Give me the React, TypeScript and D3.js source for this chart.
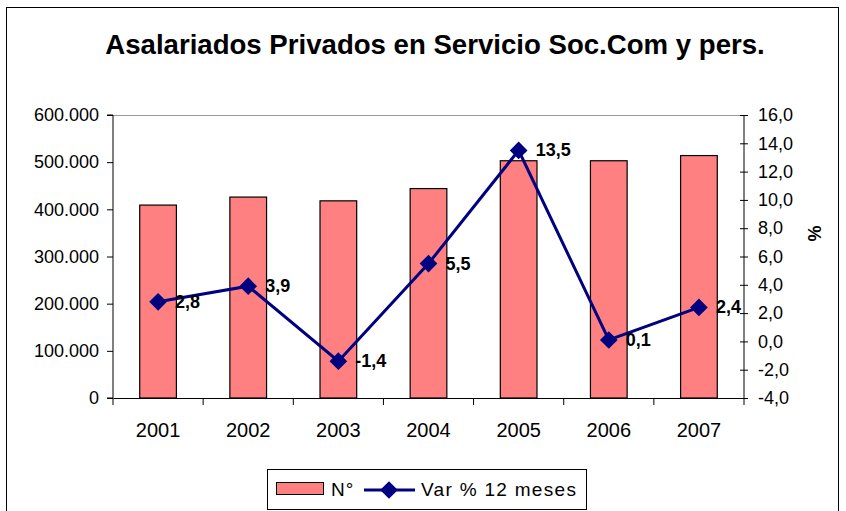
import React, { useEffect, useRef } from 'react'
import * as d3 from 'd3'

const years = ['2001', '2002', '2003', '2004', '2005', '2006', '2007']
const asalariados = [409000, 426000, 418000, 444000, 503000, 503000, 514000]
const variacion = [2.8, 3.9, -1.4, 5.5, 13.5, 0.1, 2.4]
const leftTicks = [0, 100000, 200000, 300000, 400000, 500000, 600000]
const rightTicks = [-4, -2, 0, 2, 4, 6, 8, 10, 12, 14, 16]

const fmtLeft = (v: number) => (v === 0 ? '0' : d3.format(',')(v).replace(/,/g, '.'))
const fmtRight = (v: number) => v.toFixed(1).replace('.', ',')

export default function App() {
  const ref = useRef<SVGSVGElement>(null)

  useEffect(() => {
    const svg = d3.select(ref.current)
    svg.selectAll('*').remove()
    const font = 'Arial, "Liberation Sans", sans-serif'

    const margin = { left: 113, right: 102, top: 115, bottom: 113 }
    const width = 846
    const height = 511
    const innerW = width - margin.left - margin.right
    const innerH = height - margin.top - margin.bottom

    // outer frame
    svg.append('rect').attr('x', 6.5).attr('y', 7.5).attr('width', 832).attr('height', 520)
      .attr('fill', '#fff').attr('stroke', '#000').attr('stroke-width', 1)

    svg.append('text').attr('x', 435).attr('y', 54).attr('text-anchor', 'middle')
      .attr('font-family', font).attr('font-weight', 'bold').attr('font-size', 27.6)
      .text('Asalariados Privados en Servicio Soc.Com y pers.')

    const g = svg.append('g').attr('transform', `translate(${margin.left},${margin.top})`)

    const x = d3.scaleBand().domain(years).range([0, innerW]).paddingInner(0.593).paddingOuter(0.2965)
    const xc = d3.scaleBand().domain(years).range([0, innerW])
    const yL = d3.scaleLinear().domain([0, 600000]).range([innerH, 0])
    const yR = d3.scaleLinear().domain([-4, 16]).range([innerH, 0])

    // plot area top border
    g.append('line').attr('x1', 0).attr('x2', innerW).attr('y1', 0.5).attr('y2', 0.5)
      .attr('stroke', '#999').attr('stroke-width', 1)

    g.selectAll('rect.bar').data(asalariados).enter().append('rect')
      .attr('class', 'bar')
      .attr('x', (d, i) => x(years[i])!)
      .attr('y', d => yL(d))
      .attr('width', x.bandwidth())
      .attr('height', d => innerH - yL(d))
      .attr('fill', '#FF8080').attr('stroke', '#000').attr('stroke-width', 1.2)

    // left axis
    const axL = g.append('g').call(d3.axisLeft(yL).tickValues(leftTicks).tickFormat(d => fmtLeft(+d)).tickSize(6).tickPadding(8))
    // bottom axis
    const axB = g.append('g').attr('transform', `translate(0,${innerH})`)
      .call(d3.axisBottom(xc).tickSize(0).tickPadding(25))
    const tickXs = d3.range(0, years.length + 1).map(i => (innerW / years.length) * i)
    axB.selectAll('line.sep').data(tickXs).enter().append('line').attr('class', 'sep')
      .attr('x1', d => d).attr('x2', d => d).attr('y1', 0).attr('y2', 7).attr('stroke', '#000')
    // right axis
    const axR = g.append('g').attr('transform', `translate(${innerW},0)`)
      .call(d3.axisRight(yR).tickValues(rightTicks).tickFormat(d => fmtRight(+d)).tickSizeInner(4).tickSizeOuter(0).tickPadding(10))
    axR.selectAll('.tick line').attr('x1', -4)

    ;[axL, axR].forEach(a => {
      a.selectAll('text').attr('font-family', font).attr('font-size', 18).attr('fill', '#000')
    })
    axB.selectAll('text').attr('font-family', font).attr('font-size', 20).attr('fill', '#000')
    ;[axL, axB, axR].forEach(a => {
      a.selectAll('path.domain').attr('stroke', '#000')
      a.selectAll('.tick line').attr('stroke', '#000')
    })
    axL.selectAll('path.domain').attr('d', `M-6,${innerH}H0V0H-6`)
    axR.selectAll('path.domain').attr('d', `M0,${innerH}V0`)

    // % label
    g.append('text').attr('transform', `translate(${innerW + 64},${innerH / 2 - 23}) rotate(90)`)
      .attr('text-anchor', 'middle').attr('font-family', font).attr('font-weight', 'bold').attr('font-size', 18)
      .text('%')

    // line
    const cx = (i: number) => xc(years[i])! + xc.bandwidth() / 2
    const line = d3.line<number>().x((d, i) => cx(i)).y(d => yR(d))
    g.append('path').datum(variacion).attr('d', line).attr('fill', 'none')
      .attr('stroke', '#000080').attr('stroke-width', 3)

    const diamond = d3.symbol().type(d3.symbolDiamond2).size(200)
    g.selectAll('path.mk').data(variacion).enter().append('path').attr('class', 'mk')
      .attr('d', diamond)
      .attr('transform', (d, i) => `translate(${cx(i)},${yR(d)})`)
      .attr('fill', '#000080')

    g.selectAll('text.lbl').data(variacion).enter().append('text').attr('class', 'lbl')
      .attr('x', (d, i) => cx(i) + 17)
      .attr('y', d => yR(d) + 6)
      .attr('font-family', font).attr('font-weight', 'bold').attr('font-size', 18)
      .text(d => fmtRight(d))

    // legend
    const lg = svg.append('g').attr('transform', 'translate(267,469)')
    lg.append('rect').attr('x', 0.5).attr('y', 0.5).attr('width', 319).attr('height', 40)
      .attr('fill', '#fff').attr('stroke', '#000')
    lg.append('rect').attr('x', 9.5).attr('y', 13.5).attr('width', 47).attr('height', 12)
      .attr('fill', '#FF8080').attr('stroke', '#000')
    lg.append('text').attr('x', 64).attr('y', 27).attr('font-family', font).attr('font-size', 19)
      .attr('letter-spacing', 1).text('N°')
    lg.append('line').attr('x1', 97).attr('x2', 148).attr('y1', 21).attr('y2', 21)
      .attr('stroke', '#000080').attr('stroke-width', 3)
    lg.append('path').attr('d', diamond).attr('transform', 'translate(122,21)').attr('fill', '#000080')
    lg.append('text').attr('x', 154).attr('y', 27).attr('font-family', font).attr('font-size', 19)
      .attr('letter-spacing', 1.3).text('Var % 12 meses')
  }, [])

  return (
    <svg ref={ref} width={846} height={511} style={{ position: 'absolute', left: 0, top: 0 }} />
  )
}
